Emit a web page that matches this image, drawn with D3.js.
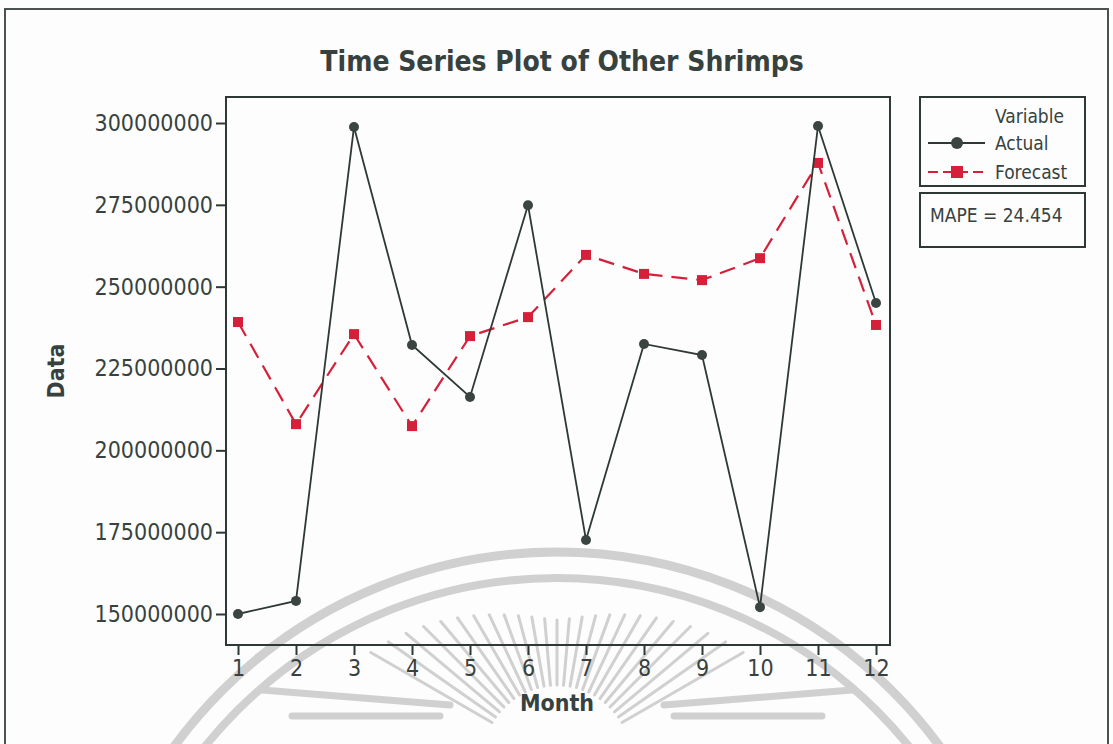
<!DOCTYPE html>
<html>
<head>
<meta charset="utf-8">
<script src="https://cdn.jsdelivr.net/npm/d3@7"></script>
<style>
  html, body { margin: 0; padding: 0; background: #fdfdfd; }
  svg { display: block; }
  text { font-family: "DejaVu Sans Condensed", "DejaVu Sans", sans-serif; font-stretch: condensed; fill: #37423e; }
</style>
</head>
<body>
<svg id="chart" width="1113" height="744"></svg>
<script>
// Monthly values for "Other Shrimps"
const months = [1, 2, 3, 4, 5, 6, 7, 8, 9, 10, 11, 12];
const actual = [150.0e6, 154.0e6, 298.8e6, 232.2e6, 216.3e6, 274.9e6, 172.6e6, 232.5e6, 229.1e6, 152.1e6, 299.1e6, 245.0e6];
const forecast = [239.2e6, 208.0e6, 235.5e6, 207.4e6, 234.9e6, 240.7e6, 259.7e6, 253.9e6, 252.0e6, 258.7e6, 287.8e6, 238.3e6];
const yTicks = [150000000, 175000000, 200000000, 225000000, 250000000, 275000000, 300000000];
const seriesNames = ["Actual", "Forecast"];
const mapeLabel = "MAPE = 24.454";

const ink = "#2e3834";
const red = "#d6203a";

const svg = d3.select("#chart");

// plot frame geometry
const frame = { left: 226, top: 97, right: 890, bottom: 645 };

const x = d3.scaleLinear().domain([1, 12]).range([238, 876]);
const y = d3.scaleLinear().domain([150e6, 300e6]).range([614, 123]);

// faint circular emblem printed behind the page
const wm = svg.append("g").attr("fill", "none").attr("stroke", "#d0d0d0").attr("stroke-linecap", "round");
wm.append("circle").attr("cx", 557).attr("cy", 1026).attr("r", 474).attr("stroke-width", 9);
wm.append("circle").attr("cx", 557).attr("cy", 1030).attr("r", 452).attr("stroke-width", 8);
const rayAngles = d3.range(-60, 61, 5);
const rad = a => a * Math.PI / 180;
const rayLen = a => 140 + 75 * Math.pow(Math.abs(a) / 60, 1.5);
wm.selectAll("line.ray").data(rayAngles).join("line")
  .attr("class", "ray")
  .attr("x1", a => 557 + 75 * Math.sin(rad(a)))
  .attr("y1", a => 760 - 75 * Math.cos(rad(a)))
  .attr("x2", a => 557 + rayLen(a) * Math.sin(rad(a)))
  .attr("y2", a => 760 - rayLen(a) * Math.cos(rad(a)))
  .attr("stroke-width", 3);
// side wing strokes of the emblem
[[262, 690, 450, 705], [292, 716, 440, 716]].forEach(([x1, y1, x2, y2]) => {
  wm.append("line").attr("x1", x1).attr("y1", y1).attr("x2", x2).attr("y2", y2).attr("stroke-width", 7);
  wm.append("line").attr("x1", 1114 - x1).attr("y1", y1).attr("x2", 1114 - x2).attr("y2", y2).attr("stroke-width", 7);
});

// outer page border
svg.append("rect").attr("x", 5).attr("y", 9).attr("width", 1103).attr("height", 740)
  .attr("fill", "none").attr("stroke", "#4a524f").attr("stroke-width", 2);

// title
svg.append("text").attr("x", 562).attr("y", 71).attr("text-anchor", "middle")
  .attr("font-size", 28).attr("font-weight", "bold").text("Time Series Plot of Other Shrimps");

// plot frame
svg.append("rect").attr("x", frame.left).attr("y", frame.top)
  .attr("width", frame.right - frame.left).attr("height", frame.bottom - frame.top)
  .attr("fill", "none").attr("stroke", ink).attr("stroke-width", 2);

// y axis
const yAxis = svg.append("g").attr("transform", `translate(${frame.left},0)`)
  .call(d3.axisLeft(y).tickValues(yTicks).tickFormat(d => String(d)).tickSize(10).tickPadding(3));
yAxis.select(".domain").remove();
yAxis.selectAll(".tick line").attr("stroke", ink).attr("stroke-width", 2);
yAxis.selectAll(".tick text").attr("font-size", 23).attr("fill", "#37423e")
  .attr("font-family", null);

// x axis
const xAxis = svg.append("g").attr("transform", `translate(0,${frame.bottom})`)
  .call(d3.axisBottom(x).tickValues(months).tickFormat(d => String(d)).tickSize(10).tickPadding(5));
xAxis.select(".domain").remove();
xAxis.selectAll(".tick line").attr("stroke", ink).attr("stroke-width", 2);
xAxis.selectAll(".tick text").attr("font-size", 23).attr("fill", "#37423e")
  .attr("font-family", null);

// axis titles
svg.append("text").attr("x", 557).attr("y", 711).attr("text-anchor", "middle")
  .attr("font-size", 23).attr("font-weight", "bold").text("Month");
svg.append("text").attr("transform", "translate(64,371) rotate(-90)").attr("text-anchor", "middle")
  .attr("font-size", 23).attr("font-weight", "bold").text("Data");

const line = d3.line().x((d, i) => x(months[i])).y(d => y(d));

// forecast series: dashed red with square markers
svg.append("path").datum(forecast).attr("d", line)
  .attr("fill", "none").attr("stroke", red).attr("stroke-width", 2.2).attr("stroke-dasharray", "16,9");
svg.selectAll("rect.fc").data(forecast).join("rect").attr("class", "fc")
  .attr("x", (d, i) => x(months[i]) - 5).attr("y", d => y(d) - 5)
  .attr("width", 10).attr("height", 10).attr("fill", red);

// actual series: solid dark line with round markers
svg.append("path").datum(actual).attr("d", line)
  .attr("fill", "none").attr("stroke", ink).attr("stroke-width", 1.8);
svg.selectAll("circle.act").data(actual).join("circle").attr("class", "act")
  .attr("cx", (d, i) => x(months[i])).attr("cy", d => y(d)).attr("r", 5).attr("fill", "#3a4441");

// legend
const lg = svg.append("g");
lg.append("rect").attr("x", 920).attr("y", 97).attr("width", 165).attr("height", 89)
  .attr("fill", "#fdfdfd").attr("stroke", ink).attr("stroke-width", 2);
lg.append("text").attr("x", 1064).attr("y", 123).attr("text-anchor", "end").attr("font-size", 19).text("Variable");
const rows = [
  { name: seriesNames[0], color: ink, dash: null, y: 143 },
  { name: seriesNames[1], color: red, dash: "10,5", y: 172 }
];
rows.forEach(r => {
  lg.append("line").attr("x1", 928).attr("x2", 985).attr("y1", r.y).attr("y2", r.y)
    .attr("stroke", r.color).attr("stroke-width", 2).attr("stroke-dasharray", r.dash);
  if (r.name === "Actual") {
    lg.append("circle").attr("cx", 957).attr("cy", r.y).attr("r", 6).attr("fill", "#3a4441");
  } else {
    lg.append("rect").attr("x", 951).attr("y", r.y - 6).attr("width", 12).attr("height", 12).attr("fill", red);
  }
  lg.append("text").attr("x", 995).attr("y", r.y + 7).attr("font-size", 19).text(r.name);
});

// accuracy box
svg.append("rect").attr("x", 920).attr("y", 193).attr("width", 165).attr("height", 54)
  .attr("fill", "#fdfdfd").attr("stroke", ink).attr("stroke-width", 2);
svg.append("text").attr("x", 930).attr("y", 222).attr("font-size", 19).text(mapeLabel);
</script>
</body>
</html>
